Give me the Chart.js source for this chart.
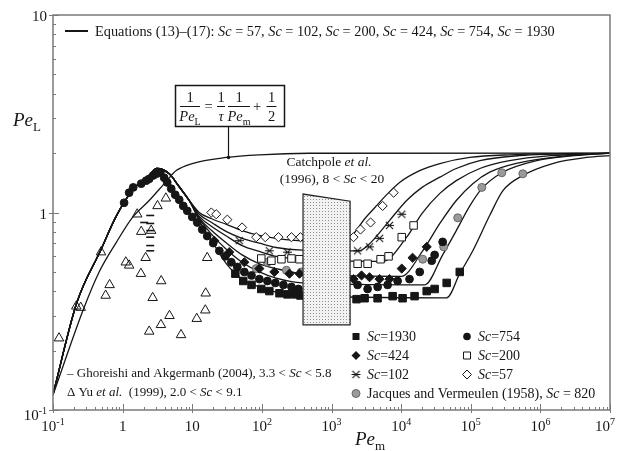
<!DOCTYPE html>
<html>
<head>
<meta charset="utf-8">
<script src="https://cdn.jsdelivr.net/npm/chart.js@4.4.1/dist/chart.umd.min.js"></script>
<style>
  body { margin: 0; background: #fff; }
  #wrap { width: 618px; height: 451px; }
</style>
</head>
<body>
<div id="wrap"><canvas id="chart" width="618" height="451"></canvas></div>
<script>
// all pairs are [Pe_m, Pe_L]

// model curves, equations (13)-(17); they share the left branch
const commonBranch = [[0.1,0.12],[0.22,0.35],[0.49,0.65],[0.8,0.95],[1.37,1.29],[2.4,1.54],[3.1,1.67],[4.67,1.57],[6.5,1.35],[9.06,1.15]];
const sc57Tail   = [[12.6,1.0],[19,0.93],[31,0.87],[52,0.81],[92,0.765],[160,0.74],[380,0.72],[1700,0.72],[2140,0.79],[3000,0.93],[4200,1.06],[5800,1.2],[9500,1.42],[18500,1.63],[36000,1.77],[97000,1.9],[360000,1.96],[1e7,2.0]];
const sc102Tail  = [[12.6,0.98],[19,0.89],[31,0.80],[52,0.74],[92,0.70],[160,0.665],[380,0.645],[2500,0.64],[3300,0.68],[3900,0.72],[6800,0.91],[12000,1.15],[20000,1.34],[36000,1.51],[62000,1.67],[135000,1.83],[500000,1.94],[1e7,2.0]];
const sc200Tail  = [[12.6,0.955],[19,0.85],[31,0.76],[52,0.68],[92,0.635],[160,0.60],[380,0.58],[5400,0.565],[12000,0.75],[20000,0.99],[36000,1.25],[62000,1.45],[135000,1.67],[360000,1.83],[1.4e6,1.94],[1e7,2.0]];
const sc424Tail  = [[12.6,0.94],[19,0.81],[31,0.70],[52,0.61],[92,0.55],[160,0.52],[380,0.49],[10000,0.475],[20400,0.64],[36000,0.88],[62000,1.15],[107000,1.40],[187000,1.60],[510000,1.79],[1.9e6,1.92],[1e7,2.0]];
const sc754Tail  = [[12.6,0.93],[19,0.775],[31,0.65],[52,0.56],[92,0.50],[160,0.465],[380,0.44],[21800,0.43],[39500,0.61],[62000,0.81],[97000,1.08],[144000,1.32],[280000,1.59],[890000,1.83],[3.1e6,1.94],[1e7,2.0]];
const sc1930Tail = [[12.6,0.91],[19,0.72],[31,0.55],[52,0.46],[92,0.42],[160,0.395],[380,0.38],[45000,0.37],[69500,0.49],[107000,0.64],[187000,0.965],[290000,1.29],[560000,1.54],[1.5e6,1.77],[4.6e6,1.9],[1e7,1.94]];

// 1/Pe_L = 1/tau * 1/Pe_m + 1/2
const formulaCurve = [[0.1,0.119],[0.27,0.32],[0.46,0.50],[0.8,0.70],[1.37,0.94],[2.41,1.15],[4.18,1.43],[5.89,1.63],[10,1.77],[30.8,1.90],[92,1.96],[482,1.995],[1e7,2.0]];
const pointerAt = [33, 1.9];

// measurements
const sc1930Points = [[41.6,0.49],[54,0.45],[71,0.43],[98,0.41],[128,0.40],[179,0.39],[233,0.385],[303,0.385],[358,0.38],
  [2290,0.364],[2990,0.368],[4590,0.368],[7550,0.377],[10500,0.368],[15600,0.377],[23300,0.40],[30300,0.41],[45100,0.44],[69500,0.50]];
const sc754Points = [[1.05,1.12],[1.24,1.26],[1.42,1.34],[1.85,1.40],[2.18,1.45],[2.41,1.48],[2.75,1.54],[3.03,1.57],[3.47,1.59],[3.95,1.50],[4.37,1.42],[4.99,1.32],[5.69,1.23],[6.5,1.16],[7.42,1.08],[8.47,1.02],[10,0.95],[11.8,0.89],[13.9,0.82],[16.4,0.76],[20,0.70],[24.5,0.64],[29.8,0.60],[36.4,0.56],[44.4,0.53],[56,0.50],[71,0.48],[92,0.46],[120,0.45],[156,0.44],[204,0.43],[266,0.42],[335,0.41],
  [2370,0.43],[3300,0.41],[4600,0.42],[6400,0.43],[8900,0.45],[13200,0.46],[18500,0.50],[27500,0.57],[30300,0.61],[39500,0.71]];
const sc424Points = [[20.7,0.72],[34,0.63],[56,0.56],[92,0.52],[151,0.50],[249,0.49],[347,0.49],
  [2070,0.46],[2700,0.48],[3520,0.47],[4900,0.46],[6800,0.46],[10200,0.52],[14600,0.59],[23300,0.67]];
const sc200Points = [[98,0.585],[137,0.57],[191,0.58],[266,0.585],[347,0.58],
  [2370,0.55],[3300,0.55],[5070,0.58],[6600,0.60],[10200,0.75],[15100,0.86]];
const sc102Points = [[47.5,0.72],[128,0.64],[233,0.63],
  [2370,0.64],[3520,0.67],[4900,0.74],[6800,0.86],[10200,0.98]];
const sc57Points = [[18.8,1.0],[22.1,0.98],[31.9,0.92],[52,0.84],[83,0.75],[112,0.75],[173,0.75],[266,0.75],[358,0.75],
  [2070,0.75],[2610,0.82],[3640,0.89],[5420,1.08],[7800,1.26]];
const jacquesPoints = [[83,0.52],[120,0.56],[225,0.51],[370,0.50],
  [20400,0.58],[40900,0.67],[65000,0.94],[144000,1.34],[279000,1.59],[560000,1.57]];
const yuPoints = [[0.122,0.231],[0.216,0.335],[0.25,0.33],[0.49,0.63],[0.57,0.38],[0.65,0.43],[1.11,0.56],[1.24,0.54],[1.83,0.49],[2.14,0.59],[1.85,0.80],[2.57,0.81],[1.62,0.98],[3.17,1.08],[4.18,1.18],[2.7,0.37],[3.58,0.45],[2.41,0.25],[3.55,0.27],[4.71,0.30],[6.9,0.24],[11.6,0.29],[15.4,0.32],[15.6,0.39],[16.4,0.59]];
const ghoreishiPoints = [[2.49,0.966],[2.04,0.89],[2.49,0.88],[2.49,0.81],[2.49,0.75],[2.49,0.68],[2.49,0.64]];

// Catchpole et al. (1996) range
const catchpoleX = [390, 1850];
const catchpoleTop = [1.24, 1.14];
const catchpoleBottom = [0.27, 0.27];

const xTickLabels = [['10','-1'],['1',''],['10',''],['10','2'],['10','3'],['10','4'],['10','5'],['10','6'],['10','7']];
const yTickLabels = [['10','-1'],['1',''],['10','']];

const SERIF = '"Liberation Serif", "Times New Roman", serif';
const INK = '#161616';

const toXY = a => a.map(p => ({ x: p[0], y: p[1] }));

function curve(data) {
  return { data: toXY(data), showLine: true, borderColor: INK, borderWidth: 1.3,
    pointRadius: 0, cubicInterpolationMode: 'monotone', order: 10 };
}
function marks(data, style, radius, fill, stroke, bw) {
  return { data: toXY(data), showLine: false, pointStyle: style, pointRadius: radius,
    backgroundColor: fill, borderColor: stroke, borderWidth: bw, order: 1 };
}

function asteriskIcon(size) {
  const c = document.createElement('canvas');
  c.width = c.height = size;
  const g = c.getContext('2d');
  const m = size / 2, r = size / 2 - 1;
  g.strokeStyle = INK; g.lineWidth = 1.1;
  g.beginPath();
  g.moveTo(m - r * 0.8, m - r * 0.8); g.lineTo(m + r * 0.8, m + r * 0.8);
  g.moveTo(m + r * 0.8, m - r * 0.8); g.lineTo(m - r * 0.8, m + r * 0.8);
  g.moveTo(m - r, m); g.lineTo(m + r, m);
  g.stroke();
  return c;
}
const asterisk = asteriskIcon(11);

const stipple = document.createElement('canvas');
stipple.width = 3; stipple.height = 3;
(function () {
  const g = stipple.getContext('2d');
  g.fillStyle = '#f2f2f2'; g.fillRect(0, 0, 3, 3);
  g.fillStyle = '#8e8e8e'; g.fillRect(1, 1, 1, 1);
})();

// mixed italic / sub / sup text runs
function runs(ctx, x, y, parts, size, align) {
  const fontOf = s => (s === 'i' ? 'italic ' : '') +
    ((s === 'sub' || s === 'sup') ? Math.round(size * 0.68) : size) + 'px ' + SERIF;
  let w = 0;
  parts.forEach(([t, s]) => { ctx.font = fontOf(s); w += ctx.measureText(t).width; });
  let cx = align === 'center' ? x - w / 2 : align === 'right' ? x - w : x;
  ctx.textAlign = 'left';
  ctx.textBaseline = 'alphabetic';
  parts.forEach(([t, s]) => {
    ctx.font = fontOf(s);
    const dy = s === 'sub' ? size * 0.28 : s === 'sup' ? -size * 0.42 : 0;
    ctx.fillText(t, cx, y + dy);
    cx += ctx.measureText(t).width;
  });
  return w;
}

function marker(ctx, kind, x, y) {
  ctx.save();
  ctx.lineWidth = 1;
  ctx.strokeStyle = INK;
  ctx.fillStyle = INK;
  ctx.beginPath();
  if (kind === 'square') { ctx.rect(x - 3.5, y - 3.5, 7, 7); ctx.fill(); }
  else if (kind === 'dot') { ctx.arc(x, y, 3.8, 0, Math.PI * 2); ctx.fill(); }
  else if (kind === 'diamond') { ctx.moveTo(x, y - 4.5); ctx.lineTo(x + 4.5, y); ctx.lineTo(x, y + 4.5); ctx.lineTo(x - 4.5, y); ctx.closePath(); ctx.fill(); }
  else if (kind === 'openSquare') { ctx.fillStyle = '#fff'; ctx.rect(x - 3.5, y - 3.5, 7, 7); ctx.fill(); ctx.stroke(); }
  else if (kind === 'openDiamond') { ctx.fillStyle = '#fff'; ctx.moveTo(x, y - 4.5); ctx.lineTo(x + 4.5, y); ctx.lineTo(x, y + 4.5); ctx.lineTo(x - 4.5, y); ctx.closePath(); ctx.fill(); ctx.stroke(); }
  else if (kind === 'star') { ctx.drawImage(asterisk, x - 5.5, y - 5.5); }
  else if (kind === 'gray') { ctx.fillStyle = '#9a9a9a'; ctx.strokeStyle = '#666'; ctx.arc(x, y, 4, 0, Math.PI * 2); ctx.fill(); ctx.stroke(); }
  ctx.restore();
}

const decorations = {
  id: 'decorations',
  afterDatasetsDraw(chart) {
    const ctx = chart.ctx, X = v => chart.scales.x.getPixelForValue(v), Y = v => chart.scales.y.getPixelForValue(v);
    ctx.save();
    ctx.beginPath();
    ctx.moveTo(X(catchpoleX[0]), Y(catchpoleBottom[0]));
    ctx.lineTo(X(catchpoleX[0]), Y(catchpoleTop[0]));
    ctx.lineTo(X(catchpoleX[1]), Y(catchpoleTop[1]));
    ctx.lineTo(X(catchpoleX[1]), Y(catchpoleBottom[1]));
    ctx.closePath();
    ctx.fillStyle = ctx.createPattern(stipple, 'repeat');
    ctx.fill();
    ctx.strokeStyle = '#222'; ctx.lineWidth = 1.2;
    ctx.stroke();
    ctx.restore();
  },
  afterDraw(chart) {
    const ctx = chart.ctx, a = chart.chartArea;
    const X = v => chart.scales.x.getPixelForValue(v), Y = v => chart.scales.y.getPixelForValue(v);
    const seg = (x1, y1, x2, y2) => { ctx.beginPath(); ctx.moveTo(x1, y1); ctx.lineTo(x2, y2); ctx.stroke(); };
    ctx.save();

    // frame and inward ticks
    ctx.strokeStyle = '#7a7a7a';
    ctx.lineWidth = 1.5;
    ctx.strokeRect(a.left, a.top, a.right - a.left, a.bottom - a.top);
    ctx.lineWidth = 1;
    for (let k = -1; k <= 7; k++) {
      const px = Math.round(X(Math.pow(10, k))) + 0.5;
      seg(px, a.bottom + 3, px, a.bottom - 6);
      if (k < 7) for (let j = 2; j <= 9; j++) {
        const p = Math.round(X(j * Math.pow(10, k))) + 0.5;
        seg(p, a.bottom, p, a.bottom - 3);
      }
    }
    for (let k = -1; k <= 1; k++) {
      const py = Math.round(Y(Math.pow(10, k))) + 0.5;
      seg(a.left - 4, py, a.left + 6, py);
      if (k < 1) for (let j = 2; j <= 9; j++) {
        const p = Math.round(Y(j * Math.pow(10, k))) + 0.5;
        seg(a.left, p, a.left + 3, p);
      }
    }

    // tick labels
    ctx.fillStyle = INK;
    xTickLabels.forEach(([b, e], i) => {
      const parts = e ? [[b, ''], [e, 'sup']] : [[b, '']];
      let cx = X(Math.pow(10, i - 1));
      if (i === xTickLabels.length - 1) cx -= 5;
      runs(ctx, cx, 431, parts, 15, 'center');
    });
    yTickLabels.forEach(([b, e], i) => {
      const parts = e ? [[b, ''], [e, 'sup']] : [[b, '']];
      const py = Y(Math.pow(10, i - 1));
      runs(ctx, a.left - 6, py + (i === 0 ? 10 : 6), parts, 15, 'right');
    });

    // axis titles
    runs(ctx, 13, 126, [['Pe', 'i'], ['L', 'sub']], 19, 'left');
    runs(ctx, 355, 445, [['Pe', 'i'], ['m', 'sub']], 19, 'left');

    // model legend
    ctx.strokeStyle = INK; ctx.lineWidth = 2;
    seg(65, 31, 88, 31);
    const eq = [['Equations (13)\u2013(17): ', '']];
    ['57', '102', '200', '424', '754', '1930'].forEach((v, i, arr) => {
      eq.push(['Sc', 'i'], [' = ' + v + (i < arr.length - 1 ? ', ' : ''), '']);
    });
    runs(ctx, 95, 36, eq, 14.3, 'left');

    // formula box and pointer
    ctx.lineWidth = 1.5;
    ctx.strokeRect(175.5, 85.5, 109, 41);
    const frac = (cx, den, half) => {
      runs(ctx, cx, 102, [['1', '']], 14.5, 'center');
      ctx.lineWidth = 1; seg(cx - half, 106.5, cx + half, 106.5);
      runs(ctx, cx, 121, den, 14.5, 'center');
    };
    frac(190, [['Pe', 'i'], ['L', 'sub']], 10);
    runs(ctx, 208.5, 110.5, [['=', '']], 14.5, 'center');
    frac(221, [['\u03c4', 'i']], 4);
    frac(239, [['Pe', 'i'], ['m', 'sub']], 11);
    runs(ctx, 257, 111, [['+', '']], 14.5, 'center');
    frac(271.5, [['2', '']], 5);
    const px = Math.round(X(pointerAt[0])) + 0.5, py = Y(pointerAt[1]);
    ctx.lineWidth = 1.2;
    seg(px, 127, px, py);
    ctx.beginPath(); ctx.arc(px, py, 1.8, 0, Math.PI * 2); ctx.fill();

    // Catchpole label
    runs(ctx, 329, 166, [['Catchpole ', ''], ['et al.', 'i']], 13.5, 'center');
    runs(ctx, 332, 183, [['(1996), 8 < ', ''], ['Sc', 'i'], [' < 20', '']], 13.5, 'center');

    // literature data legend
    runs(ctx, 67, 377, [['\u2013 Ghoreishi and Akgermanb (2004), 3.3 < ', ''], ['Sc', 'i'], [' < 5.8', '']], 13, 'left');
    runs(ctx, 67, 396, [['\u0394 Yu ', ''], ['et al.', 'i'], ['  (1999), 2.0 < ', ''], ['Sc', 'i'], [' < 9.1', '']], 13, 'left');

    // measurement legend
    const rows = [
      [['square', '1930'], ['dot', '754']],
      [['diamond', '424'], ['openSquare', '200']],
      [['star', '102'], ['openDiamond', '57']]
    ];
    rows.forEach((row, r) => {
      const base = 341 + r * 19;
      row.forEach(([kind, v], c) => {
        const mx = c === 0 ? 356 : 467;
        marker(ctx, kind, mx, base - 4.5);
        runs(ctx, mx + 11, base, [['Sc', 'i'], ['=' + v, '']], 14, 'left');
      });
    });
    marker(ctx, 'gray', 356, 393.5);
    runs(ctx, 367, 398, [['Jacques and Vermeulen (1958), ', ''], ['Sc', 'i'], [' = 820', '']], 14, 'left');

    ctx.restore();
  }
};

new Chart(document.getElementById('chart').getContext('2d'), {
  type: 'scatter',
  data: {
    datasets: [
      marks(sc1930Points, 'rect', 5.3, INK, INK, 1),
      marks(sc754Points, 'circle', 3.9, INK, INK, 1),
      marks(sc424Points, 'rectRot', 4.6, INK, INK, 1),
      marks(sc200Points, 'rect', 5.3, '#fff', INK, 1),
      marks(sc102Points, asterisk, 5, INK, INK, 1),
      marks(sc57Points, 'rectRot', 4.6, '#fff', INK, 1),
      marks(jacquesPoints, 'circle', 4, '#9a9a9a', '#666', 1),
      marks(yuPoints, 'triangle', 5.5, 'rgba(255,255,255,0)', INK, 1),
      marks(ghoreishiPoints, 'line', 4, INK, INK, 1.6),
      curve(commonBranch.concat(sc57Tail)),
      curve(commonBranch.concat(sc102Tail)),
      curve(commonBranch.concat(sc200Tail)),
      curve(commonBranch.concat(sc424Tail)),
      curve(commonBranch.concat(sc754Tail)),
      curve(commonBranch.concat(sc1930Tail)),
      curve(formulaCurve)
    ]
  },
  options: {
    responsive: false,
    animation: false,
    events: [],
    layout: { padding: { left: 53, right: 8, top: 15, bottom: 41 } },
    scales: {
      x: { type: 'logarithmic', min: 0.1, max: 1e7, display: false },
      y: { type: 'logarithmic', min: 0.1, max: 10, display: false }
    },
    plugins: { legend: { display: false }, tooltip: { enabled: false } }
  },
  plugins: [decorations]
});
</script>
</body>
</html>
